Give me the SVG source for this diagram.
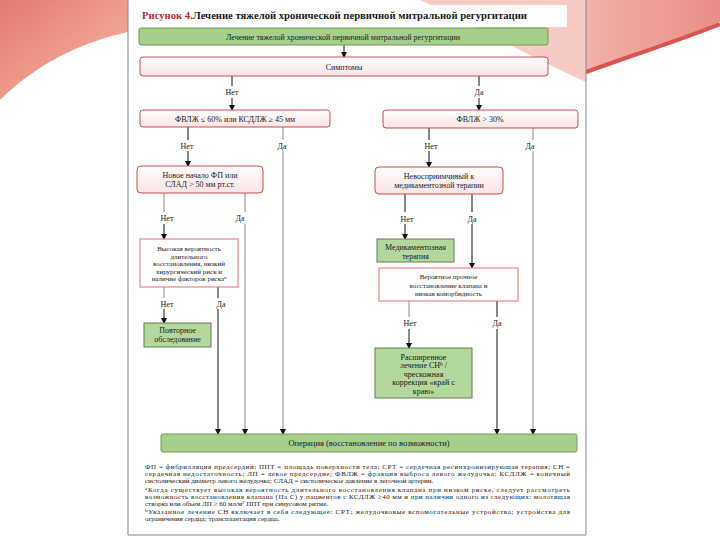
<svg xmlns="http://www.w3.org/2000/svg" width="720" height="540" viewBox="0 0 720 540">
<defs>
<linearGradient id="pinkFill" x1="0" y1="0" x2="0" y2="1">
<stop offset="0" stop-color="#ffffff"/>
<stop offset="1" stop-color="#fbe3e5"/>
</linearGradient>
<linearGradient id="tlGrad" x1="0" y1="0" x2="1" y2="1">
<stop offset="0" stop-color="#e27a72"/>
<stop offset="0.6" stop-color="#f0a08e"/>
<stop offset="1" stop-color="#f7c2b2"/>
</linearGradient>
<linearGradient id="trGrad" x1="0" y1="0" x2="1" y2="0">
<stop offset="0" stop-color="#f2b1a8"/>
<stop offset="1" stop-color="#e98c86"/>
</linearGradient>
<marker id="arr" markerWidth="6" markerHeight="6" refX="5" refY="3" orient="auto" markerUnits="userSpaceOnUse">
<path d="M0,0 L6,3 L0,6 Z" fill="#111"/>
</marker>
<marker id="arrg" markerWidth="6" markerHeight="6" refX="5" refY="3" orient="auto" markerUnits="userSpaceOnUse">
<path d="M0,0 L6,3 L0,6 Z" fill="#111"/>
</marker>
</defs>
<style>
text{font-family:"Liberation Serif","DejaVu Serif",serif;fill:#1a1a1a}
.t{font-size:8px;text-anchor:middle}
.ts{font-size:7px;text-anchor:middle}
.lbl{font-size:8px;text-anchor:middle}
.fn{font-size:7px}
.pink{fill:url(#pinkFill);stroke:#c0504d;stroke-width:1}
.pinksq{fill:#ffffff;stroke:#e07070;stroke-width:1}
.green{fill:#a6cf8c;stroke:#6f9c56;stroke-width:1}
.greensm{fill:#b3d79c;stroke:#5e7f4a;stroke-width:1}
.c{stroke:#111;stroke-width:1;fill:none}
.cg{stroke:#8a8a8a;stroke-width:1;fill:none}
</style>
<rect x="0" y="0" width="720" height="540" fill="#ffffff"/>
<path d="M0,0 L128,0 L128,32 C90,40 40,60 0,100 Z" fill="url(#tlGrad)"/>
<path d="M586,0 L720,0 L720,22 C680,40 630,58 586,74 Z" fill="url(#trGrad)"/>
<path d="M586,72 C630,56 680,40 720,24" stroke="#d9544f" stroke-width="4" fill="none"/>
<rect x="128" y="0" width="458" height="535" fill="#ffffff"/>
<path d="M420,0 L586,0 L586,82 C540,62 480,28 420,0 Z" fill="#f3b8b2" opacity="0.75"/>
<path d="M128,0 V535 H586 V0" fill="none" stroke="#7f8799" stroke-width="1"/>
<rect x="133" y="5" width="434" height="22" fill="#ffffff"/>
<text x="142" y="19" style="font-size:10px;font-weight:bold" textLength="385" lengthAdjust="spacingAndGlyphs"><tspan fill="#c0262d">Рисунок 4.</tspan><tspan>Лечение  тяжелой хронической первичной митральной регургитации</tspan></text>

<g id="connectors">
<line class="c" x1="344" y1="45" x2="344" y2="57" marker-end="url(#arr)"/>
<line class="c" x1="232" y1="76" x2="232" y2="86"/>
<line class="c" x1="232" y1="98" x2="232" y2="110" marker-end="url(#arr)"/>
<line class="c" x1="479" y1="76" x2="479" y2="86"/>
<line class="c" x1="479" y1="98" x2="479" y2="110" marker-end="url(#arr)"/>
<line class="c" x1="188" y1="127" x2="188" y2="140"/>
<line class="c" x1="188" y1="151" x2="188" y2="166" marker-end="url(#arr)"/>
<line class="cg" x1="283" y1="127" x2="283" y2="140"/>
<line class="cg" x1="283" y1="151" x2="283" y2="434" marker-end="url(#arrg)"/>
<line class="c" x1="429" y1="128" x2="429" y2="140"/>
<line class="c" x1="429" y1="151" x2="429" y2="167" marker-end="url(#arr)"/>
<line class="cg" x1="533" y1="128" x2="533" y2="140"/>
<line class="cg" x1="533" y1="151" x2="533" y2="434" marker-end="url(#arrg)"/>
<line class="cg" x1="164" y1="193" x2="164" y2="212"/>
<line class="c" x1="164" y1="224" x2="164" y2="239" marker-end="url(#arr)"/>
<line class="cg" x1="245" y1="193" x2="245" y2="212"/>
<line class="cg" x1="245" y1="224" x2="245" y2="434" marker-end="url(#arrg)"/>
<line class="c" x1="405" y1="194" x2="405" y2="212"/>
<line class="c" x1="405" y1="224" x2="405" y2="239" marker-end="url(#arr)"/>
<line class="c" x1="472" y1="194" x2="472" y2="212"/>
<line class="c" x1="472" y1="224" x2="472" y2="268" marker-end="url(#arr)"/>
<line class="cg" x1="164" y1="287" x2="164" y2="298"/>
<line class="c" x1="164" y1="309" x2="164" y2="323" marker-end="url(#arr)"/>
<line class="c" x1="218" y1="287" x2="218" y2="298"/>
<line class="c" x1="218" y1="309" x2="218" y2="434" marker-end="url(#arr)"/>
<line class="cg" x1="409" y1="301" x2="409" y2="317"/>
<line class="c" x1="409" y1="329" x2="409" y2="348" marker-end="url(#arr)"/>
<line class="c" x1="497" y1="301" x2="497" y2="317"/>
<line class="c" x1="497" y1="329" x2="497" y2="434" marker-end="url(#arr)"/>
<text class="lbl" x="232" y="95">Нет</text>
<text class="lbl" x="479" y="95">Да</text>
<text class="lbl" x="187" y="149">Нет</text>
<text class="lbl" x="282" y="149">Да</text>
<text class="lbl" x="431" y="149">Нет</text>
<text class="lbl" x="530" y="149">Да</text>
<text class="lbl" x="167" y="221">Нет</text>
<text class="lbl" x="240" y="221">Да</text>
<text class="lbl" x="407" y="222">Нет</text>
<text class="lbl" x="472" y="222">Да</text>
<text class="lbl" x="167" y="307">Нет</text>
<text class="lbl" x="221" y="307">Да</text>
<text class="lbl" x="410" y="326">Нет</text>
<text class="lbl" x="497" y="326">Да</text>
</g>

<g id="n_start">
<rect class="green" x="139" y="28" width="409" height="17" rx="2"/>
<text class="t" x="343" y="39.5">Лечение тяжелой хронической первичной митральной регургитации</text>
</g>
<g id="n_symptoms">
<rect class="pink" x="140" y="57" width="408" height="19" rx="3"/>
<text class="t" x="344" y="70">Симптомы</text>
</g>
<g id="n_lvef60">
<rect class="pink" x="140" y="110" width="190" height="17" rx="3"/>
<text class="t" x="235" y="121.5">ФВЛЖ ≤ 60% или КСДЛЖ ≥ 45 мм</text>
</g>
<g id="n_lvef30">
<rect class="pink" x="383" y="110" width="195" height="18" rx="3"/>
<text class="t" x="480" y="122">ФВЛЖ &gt; 30%</text>
</g>
<g id="n_af">
<rect class="pink" x="137" y="166" width="126" height="27" rx="4"/>
<text class="t" x="200" y="177.5">Новое начало ФП или</text>
<text class="t" x="200" y="186.5">СЛАД &gt; 50 мм рт.ст.</text>
</g>
<g id="n_refractory">
<rect class="pink" x="375" y="167" width="128" height="27" rx="4"/>
<text class="t" x="439" y="178.5">Невосприимчивый к</text>
<text class="t" x="439" y="187.5">медикаментозной терапии</text>
</g>
<g id="n_highprob">
<rect class="pinksq" x="140" y="239" width="98" height="48"/>
<text class="ts" x="189" y="251">Высокая вероятность</text>
<text class="ts" x="189" y="258.5">длительного</text>
<text class="ts" x="189" y="266">восстановления, низкий</text>
<text class="ts" x="189" y="273.5">хирургический риск и</text>
<text class="ts" x="189" y="281">наличие факторов риска<tspan font-size="5" dy="-2.5">a</tspan></text>
</g>
<g id="n_followup">
<rect class="greensm" x="144" y="323" width="67" height="24"/>
<text class="t" x="177.5" y="333">Повторное</text>
<text class="t" x="177.5" y="342">обследование</text>
</g>
<g id="n_medical">
<rect class="greensm" x="377" y="239" width="77" height="23"/>
<text class="t" x="415.5" y="249.5">Медикаментозная</text>
<text class="t" x="415.5" y="258.5">терапия</text>
</g>
<g id="n_durable">
<rect class="pinksq" x="379" y="268" width="139" height="33"/>
<text class="ts" x="448.5" y="279">Вероятное прочное</text>
<text class="ts" x="448.5" y="287.5">восстановление клапана и</text>
<text class="ts" x="448.5" y="296">низкая коморбидность</text>
</g>
<g id="n_extended">
<rect class="greensm" x="375" y="348" width="97" height="50"/>
<text class="t" x="423.5" y="359.5">Расширенное</text>
<text class="t" x="423.5" y="368">лечение СН<tspan font-size="5.5" dy="-2.5">b</tspan><tspan dy="2.5"> /</tspan></text>
<text class="t" x="423.5" y="376.5">чрескожная</text>
<text class="t" x="423.5" y="385">коррекция «край с</text>
<text class="t" x="423.5" y="393.5">краю»</text>
</g>
<g id="n_surgery">
<rect class="green" x="161" y="434" width="416" height="18" rx="2"/>
<text class="t" x="369" y="446" style="font-size:8.5px">Операция (восстановление по возможности)</text>
</g>

<g id="footnotes">
<text class="fn" x="145" y="469" textLength="425" lengthAdjust="spacing">ФП = фибрилляция предсердий; ППТ = площадь поверхности тела; СРТ = сердечная ресинхронизирующая терапия; СН =</text>
<text class="fn" x="145" y="476" textLength="425" lengthAdjust="spacing">сердечная недостаточность; ЛП = левое предсердие; ФВЛЖ = фракция выброса левого желудочка; КСДЛЖ = конечный</text>
<text class="fn" x="145" y="483">систолический диаметр левого желудочка; СЛАД = систолическое давление в легочной артерии.</text>
<text class="fn" x="145" y="492" textLength="425" lengthAdjust="spacing"><tspan font-size="5" dy="-2">a</tspan><tspan dy="2">Когда существует высокая вероятность длительного восстановления клапана при низком риске, следует рассмотреть</tspan></text>
<text class="fn" x="145" y="499" textLength="425" lengthAdjust="spacing">возможность восстановления клапана (IIa C) у пациентов с КСДЛЖ ≥40 мм и при наличии одного из следующих: молотящая</text>
<text class="fn" x="145" y="506">створка или объем ЛП ≥ 60 мл/м² ППТ при синусовом ритме.</text>
<text class="fn" x="145" y="514" textLength="425" lengthAdjust="spacing"><tspan font-size="5" dy="-2">b</tspan><tspan dy="2">Указанное лечение СН включает в себя следующее: СРТ; желудочковые вспомогательные устройства; устройства для</tspan></text>
<text class="fn" x="145" y="521">ограничения сердца; трансплантация сердца.</text>
</g>
</svg>
